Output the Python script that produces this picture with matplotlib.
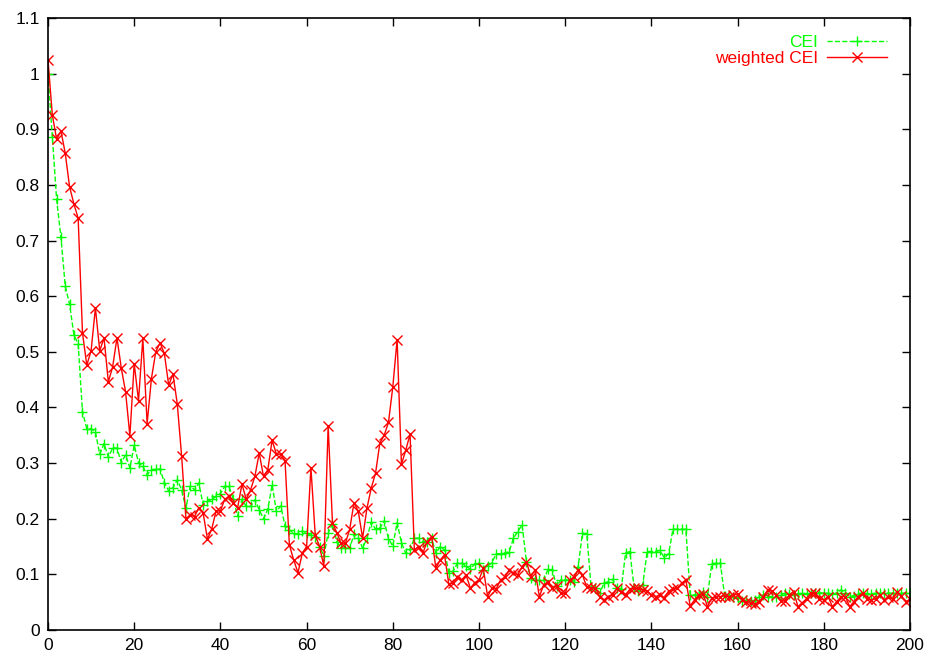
import matplotlib
matplotlib.use("Agg")
import matplotlib.pyplot as plt
from matplotlib.ticker import FixedLocator

plt.rcParams['font.family'] = ['Liberation Sans', 'DejaVu Sans']

# iteration index 0..200
steps = list(range(201))

cei = [
    1.000, 0.887, 0.774, 0.706, 0.618, 0.586, 0.531, 0.514, 0.392, 0.362,
    0.362, 0.356, 0.316, 0.335, 0.311, 0.327, 0.327, 0.301, 0.315, 0.291,
    0.332, 0.301, 0.294, 0.279, 0.288, 0.289, 0.289, 0.265, 0.250, 0.256,
    0.270, 0.252, 0.219, 0.259, 0.252, 0.264, 0.225, 0.231, 0.235, 0.240,
    0.245, 0.258, 0.258, 0.235, 0.205, 0.235, 0.222, 0.222, 0.234, 0.216,
    0.200, 0.217, 0.261, 0.213, 0.223, 0.187, 0.180, 0.174, 0.172, 0.178,
    0.175, 0.170, 0.168, 0.150, 0.133, 0.174, 0.191, 0.159, 0.147, 0.148,
    0.147, 0.172, 0.166, 0.147, 0.165, 0.194, 0.181, 0.183, 0.196, 0.164,
    0.151, 0.193, 0.157, 0.138, 0.145, 0.165, 0.165, 0.159, 0.159, 0.165,
    0.138, 0.150, 0.144, 0.102, 0.106, 0.120, 0.120, 0.115, 0.109, 0.119,
    0.120, 0.108, 0.115, 0.121, 0.137, 0.137, 0.138, 0.141, 0.165, 0.177,
    0.189, 0.123, 0.093, 0.090, 0.089, 0.089, 0.109, 0.108, 0.079, 0.090,
    0.090, 0.090, 0.087, 0.114, 0.174, 0.173, 0.078, 0.076, 0.066, 0.084,
    0.087, 0.091, 0.076, 0.074, 0.138, 0.141, 0.076, 0.070, 0.081, 0.141,
    0.141, 0.141, 0.143, 0.130, 0.137, 0.181, 0.181, 0.181, 0.181, 0.063,
    0.063, 0.063, 0.069, 0.060, 0.119, 0.120, 0.120, 0.061, 0.063, 0.060,
    0.058, 0.052, 0.054, 0.052, 0.054, 0.060, 0.063, 0.060, 0.060, 0.060,
    0.063, 0.066, 0.064, 0.063, 0.065, 0.066, 0.065, 0.067, 0.066, 0.067,
    0.066, 0.066, 0.065, 0.066, 0.072, 0.066, 0.060, 0.062, 0.065, 0.067,
    0.065, 0.065, 0.066, 0.066, 0.066, 0.066, 0.066, 0.066, 0.066, 0.066,
    0.066,
]

weighted_cei = [
    1.025, 0.926, 0.882, 0.897, 0.857, 0.797, 0.766, 0.740, 0.534, 0.476,
    0.502, 0.579, 0.502, 0.525, 0.446, 0.473, 0.525, 0.471, 0.428, 0.349,
    0.479, 0.412, 0.524, 0.371, 0.452, 0.500, 0.516, 0.497, 0.440, 0.460,
    0.406, 0.313, 0.200, 0.207, 0.204, 0.220, 0.210, 0.163, 0.182, 0.214,
    0.214, 0.235, 0.240, 0.228, 0.220, 0.262, 0.235, 0.252, 0.276, 0.318,
    0.276, 0.288, 0.341, 0.316, 0.316, 0.304, 0.153, 0.126, 0.103, 0.138,
    0.150, 0.292, 0.171, 0.150, 0.115, 0.367, 0.193, 0.175, 0.156, 0.156,
    0.181, 0.229, 0.213, 0.165, 0.219, 0.255, 0.282, 0.336, 0.350, 0.373,
    0.437, 0.522, 0.298, 0.323, 0.352, 0.144, 0.150, 0.139, 0.159, 0.168,
    0.111, 0.126, 0.135, 0.082, 0.085, 0.096, 0.090, 0.099, 0.075, 0.085,
    0.090, 0.111, 0.060, 0.075, 0.074, 0.090, 0.095, 0.108, 0.102, 0.099,
    0.114, 0.123, 0.096, 0.108, 0.060, 0.081, 0.087, 0.075, 0.079, 0.066,
    0.066, 0.090, 0.095, 0.108, 0.099, 0.077, 0.076, 0.075, 0.060, 0.054,
    0.060, 0.063, 0.075, 0.068, 0.063, 0.073, 0.075, 0.075, 0.072, 0.070,
    0.063, 0.060, 0.063, 0.058, 0.070, 0.073, 0.075, 0.084, 0.090, 0.043,
    0.054, 0.063, 0.065, 0.042, 0.057, 0.060, 0.060, 0.062, 0.060, 0.063,
    0.064, 0.054, 0.050, 0.048, 0.047, 0.050, 0.060, 0.072, 0.070, 0.063,
    0.052, 0.052, 0.063, 0.069, 0.042, 0.049, 0.056, 0.066, 0.066, 0.056,
    0.054, 0.060, 0.042, 0.051, 0.060, 0.060, 0.042, 0.051, 0.060, 0.066,
    0.056, 0.054, 0.056, 0.063, 0.054, 0.060, 0.055, 0.069, 0.061, 0.051,
    0.055,
]

y_ticks = [0, 0.1, 0.2, 0.3, 0.4, 0.5, 0.6, 0.7, 0.8, 0.9, 1, 1.1]
y_tick_labels = ['0', '0.1', '0.2', '0.3', '0.4', '0.5', '0.6', '0.7', '0.8', '0.9', '1', '1.1']
x_ticks = [0, 20, 40, 60, 80, 100, 120, 140, 160, 180, 200]

fig = plt.figure(figsize=(9.31, 6.63), dpi=100)
ax = fig.add_axes([48 / 931, 33 / 663, 862 / 931, 612 / 663])

ax.plot(steps, cei, color='#00ff00', linestyle='--', linewidth=1.0,
        marker='+', markersize=7, markeredgewidth=1.0, label='CEI')
ax.plot(steps, weighted_cei, color='#ff0000', linestyle='-', linewidth=1.0,
        marker='x', markersize=6.5, markeredgewidth=1.0, label='weighted CEI')

ax.set_xlim(0, 200)
ax.set_ylim(0, 1.1)
ax.xaxis.set_major_locator(FixedLocator(x_ticks))
ax.set_yticks(y_ticks)
ax.set_yticklabels(y_tick_labels)
ax.tick_params(direction='in', length=6, width=1, top=True, right=True,
               labelsize=12.5, pad=6)
for s in ax.spines.values():
    s.set_linewidth(1.2)

leg = ax.legend(loc='upper right', bbox_to_anchor=(1, 1.01), frameon=False,
                markerfirst=False, handlelength=3.5, fontsize=12.5,
                labelcolor='linecolor', borderaxespad=0.9, handletextpad=0.5,
                labelspacing=0.05)
for t in leg.get_texts():
    t.set_ha('right')

fig.savefig('out.png', dpi=100)
